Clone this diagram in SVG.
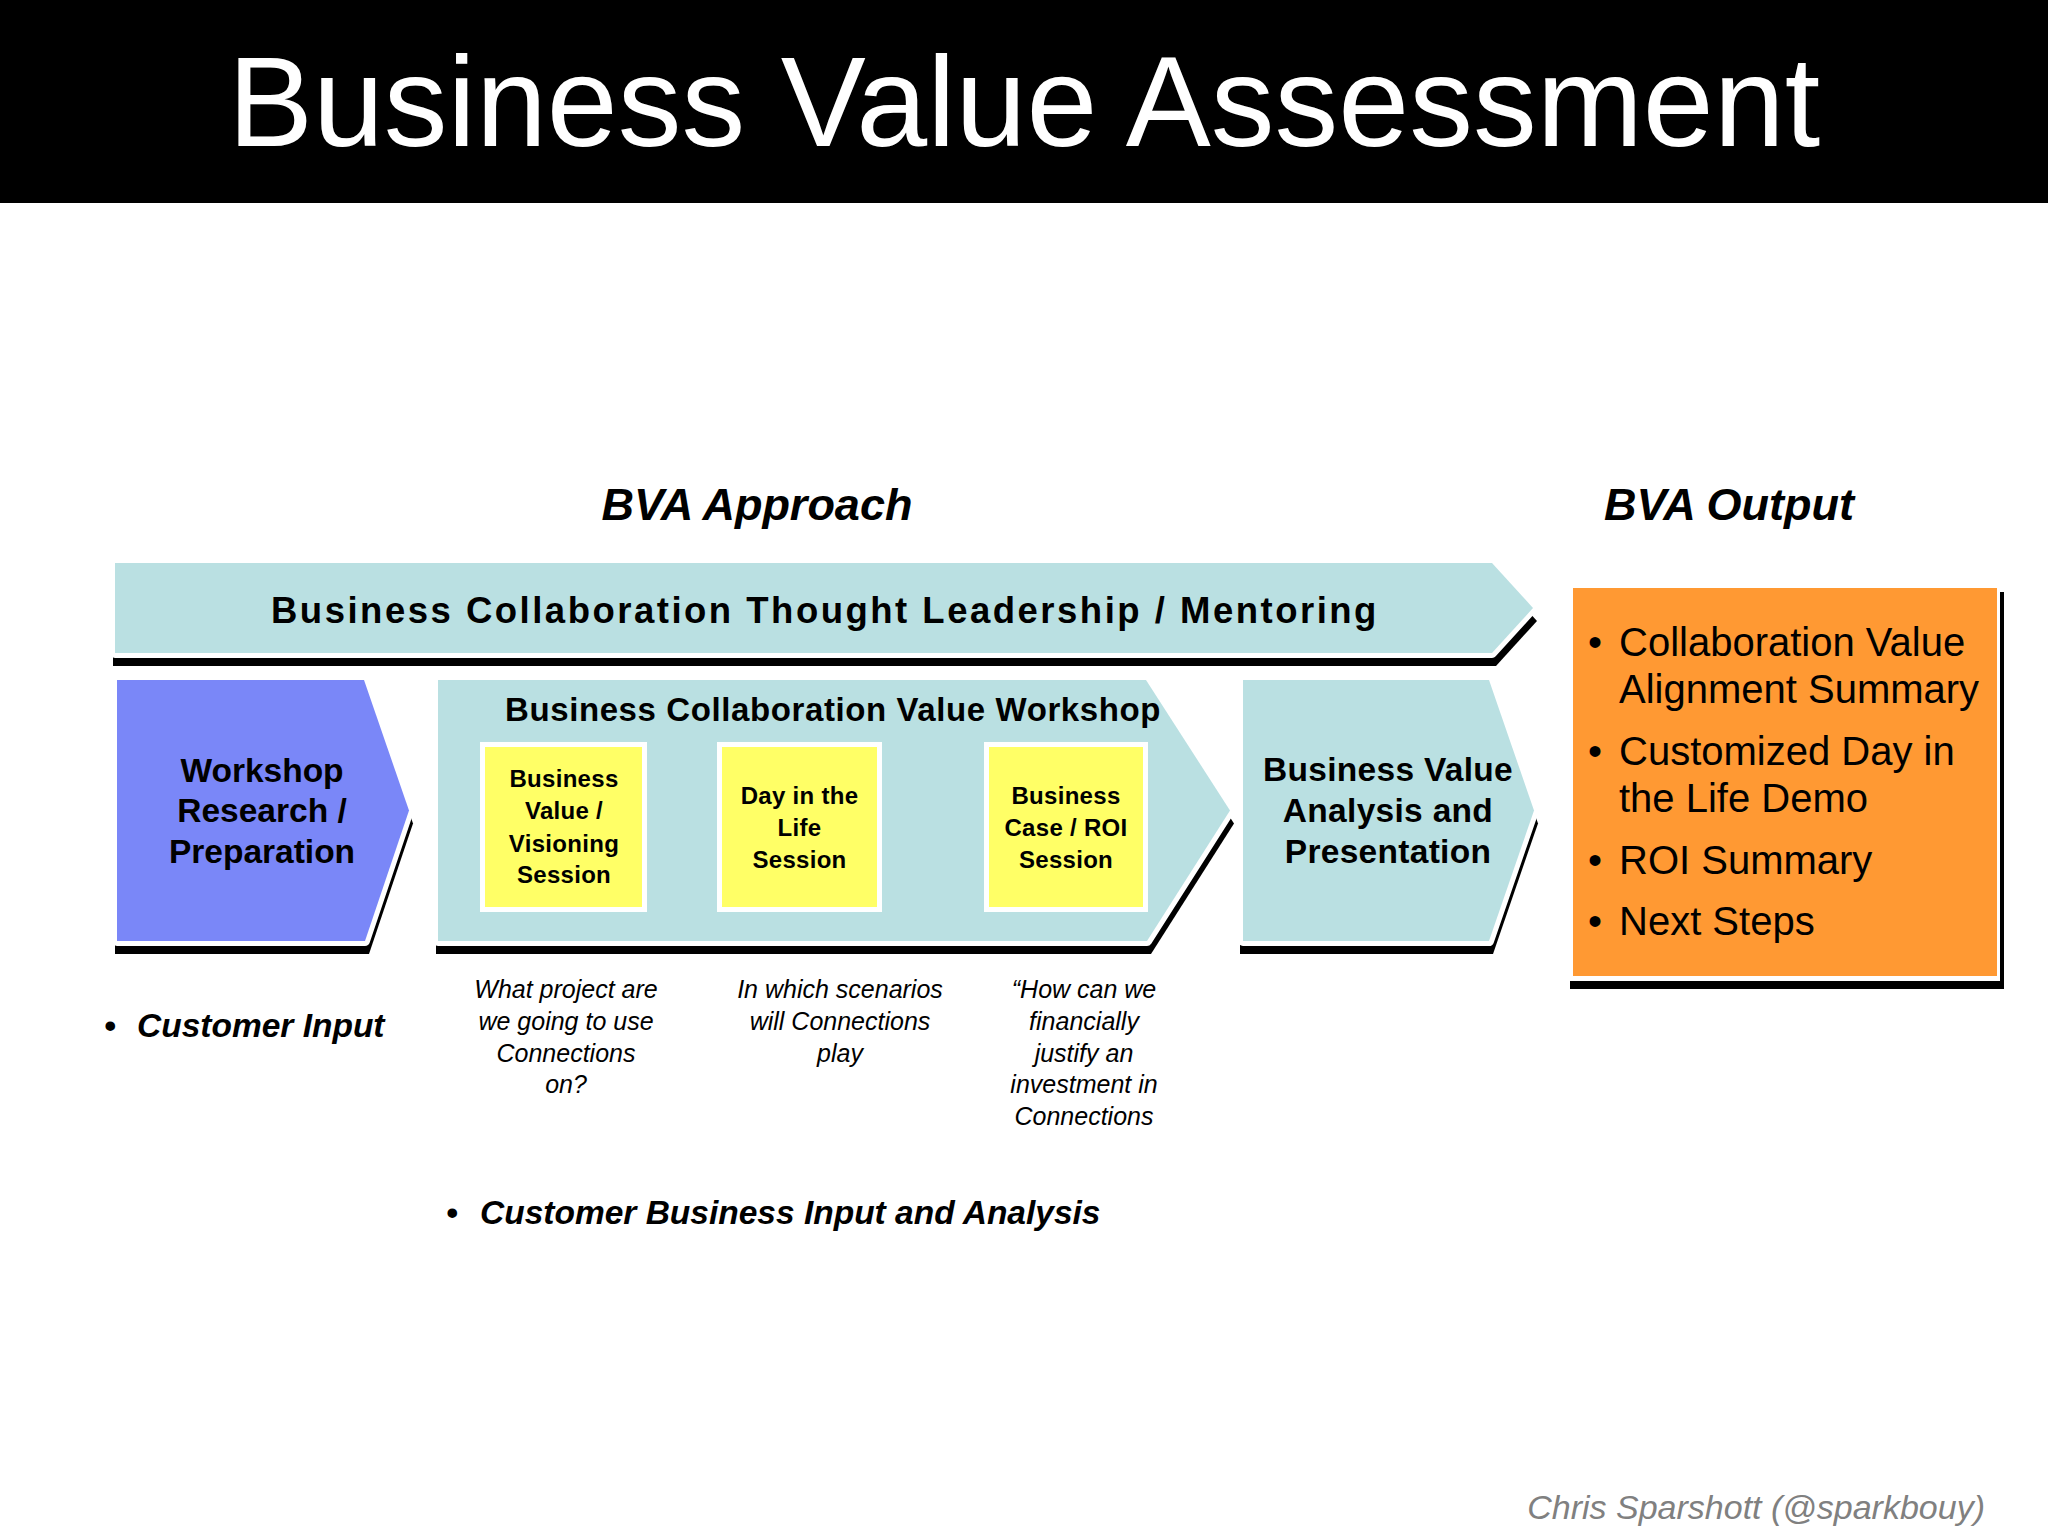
<svg xmlns="http://www.w3.org/2000/svg" width="2048" height="1536" viewBox="0 0 2048 1536">
<style>
text{font-family:"Liberation Sans",Arial,Helvetica,sans-serif;fill:#000}
.b{font-weight:bold}
.i{font-style:italic}
.c{text-anchor:middle}
.shadow{fill:#000}
.shape{stroke:#fff;stroke-width:10;stroke-linejoin:round;paint-order:stroke}
.teal{fill:#BAE0E2}
.blue{fill:#7A87F8}
.yellow{fill:#FFFF66;stroke:#fff;stroke-width:5}
.orange{fill:#FF9933}
.title{fill:#fff;font-size:127.5px;text-anchor:middle}
.head{font-size:45px;font-weight:bold;font-style:italic;text-anchor:middle}
.node{font-size:33.5px;font-weight:bold;text-anchor:middle}
.box{font-size:24px;font-weight:bold;text-anchor:middle;letter-spacing:0.3px}
.note{font-size:25px;font-style:italic;text-anchor:middle}
.bul{font-size:33.5px;font-weight:bold;font-style:italic}
.out{font-size:40px}
.credit{font-size:34px;font-style:italic;fill:#808080;text-anchor:end}
</style>
<rect x="0" y="0" width="2048" height="1536" fill="#fff"/>

<g id="title-bar">
<rect x="0" y="0" width="2048" height="203" fill="#000"/>
<text class="title" x="1024" y="146">Business Value Assessment</text>
</g>

<g id="label-bva-approach"><text class="head" x="757" y="520">BVA Approach</text></g>
<g id="label-bva-output"><text class="head" x="1729" y="520">BVA Output</text></g>

<g id="banner-thought-leadership">
<polygon class="shadow" points="113,576 1496,576 1537,621 1496,666 113,666"/>
<polygon class="shape teal" points="115,563 1492,563 1533,608 1492,653 115,653"/>
<text class="b" x="271" y="622.5" font-size="36.5" letter-spacing="2.5">Business Collaboration Thought Leadership / Mentoring</text>
</g>

<g id="workshop-research-preparation">
<polygon class="shadow" points="115,693 368,693 413,823.5 369,954 115,954"/>
<polygon class="shape blue" points="117,680 364,680 409,810.5 365,941 117,941"/>
<text class="node" x="262" y="782">Workshop</text>
<text class="node" x="262" y="822">Research /</text>
<text class="node" x="262" y="863">Preparation</text>
</g>

<g id="business-collaboration-value-workshop">
<polygon class="shadow" points="436,693 1150,693 1234,823.5 1151,954 436,954"/>
<polygon class="shape teal" points="438,680 1146,680 1230,810.5 1147,941 438,941"/>
<text class="b" x="505" y="721" font-size="33" letter-spacing="0.6">Business Collaboration Value Workshop</text>
<g id="session-business-value-visioning">
<rect class="yellow" x="482.5" y="744.5" width="162" height="165"/>
<text class="box" x="564" y="787">Business</text>
<text class="box" x="564" y="819">Value /</text>
<text class="box" x="564" y="851.5">Visioning</text>
<text class="box" x="564" y="883">Session</text>
</g>
<g id="session-day-in-the-life">
<rect class="yellow" x="719.5" y="744.5" width="160" height="165"/>
<text class="box" x="799.5" y="804">Day in the</text>
<text class="box" x="799.5" y="836">Life</text>
<text class="box" x="799.5" y="868">Session</text>
</g>
<g id="session-business-case-roi">
<rect class="yellow" x="986.5" y="744.5" width="159" height="165"/>
<text class="box" x="1066" y="804">Business</text>
<text class="box" x="1066" y="836">Case / ROI</text>
<text class="box" x="1066" y="868">Session</text>
</g>
</g>

<g id="business-value-analysis-presentation">
<polygon class="shadow" points="1240,693 1493,693 1538,823.5 1493,954 1240,954"/>
<polygon class="shape teal" points="1243,680 1489,680 1534,810.5 1489,941 1243,941"/>
<text class="node" x="1388" y="781" letter-spacing="0.3">Business Value</text>
<text class="node" x="1388" y="822" letter-spacing="0.3">Analysis and</text>
<text class="node" x="1388" y="863" letter-spacing="0.3">Presentation</text>
</g>

<g id="bva-output-box">
<rect class="shadow" x="1570" y="592" width="434" height="397"/>
<rect x="1568" y="583" width="432" height="398" fill="#fff"/>
<rect class="orange" x="1573" y="588" width="424" height="388"/>
<text class="out" x="1588" y="656">•</text>
<text class="out" x="1619" y="656">Collaboration Value</text>
<text class="out" x="1619" y="703">Alignment Summary</text>
<text class="out" x="1588" y="765">•</text>
<text class="out" x="1619" y="765">Customized Day in</text>
<text class="out" x="1619" y="812">the Life Demo</text>
<text class="out" x="1588" y="874">•</text>
<text class="out" x="1619" y="874">ROI Summary</text>
<text class="out" x="1588" y="935">•</text>
<text class="out" x="1619" y="935">Next Steps</text>
</g>

<g id="connectors"></g>

<g id="notes">
<g id="note-visioning">
<text class="note" x="566" y="998">What project are</text>
<text class="note" x="566" y="1030">we going to use</text>
<text class="note" x="566" y="1062">Connections</text>
<text class="note" x="566" y="1093">on?</text>
</g>
<g id="note-day-in-life">
<text class="note" x="840" y="998">In which scenarios</text>
<text class="note" x="840" y="1030">will Connections</text>
<text class="note" x="840" y="1062">play</text>
</g>
<g id="note-roi">
<text class="note" x="1084" y="998">“How can we</text>
<text class="note" x="1084" y="1030">financially</text>
<text class="note" x="1084" y="1062">justify an</text>
<text class="note" x="1084" y="1093">investment in</text>
<text class="note" x="1084" y="1125">Connections</text>
</g>
</g>

<g id="customer-input">
<text class="bul" x="104" y="1037" font-style="normal">•</text>
<text class="bul" x="137" y="1037">Customer Input</text>
</g>
<g id="customer-business-input">
<text class="bul" x="446" y="1224" font-style="normal">•</text>
<text class="bul" x="480" y="1224">Customer Business Input and Analysis</text>
</g>

<g id="credit"><text class="credit" x="1985" y="1519">Chris Sparshott (@sparkbouy)</text></g>
</svg>
